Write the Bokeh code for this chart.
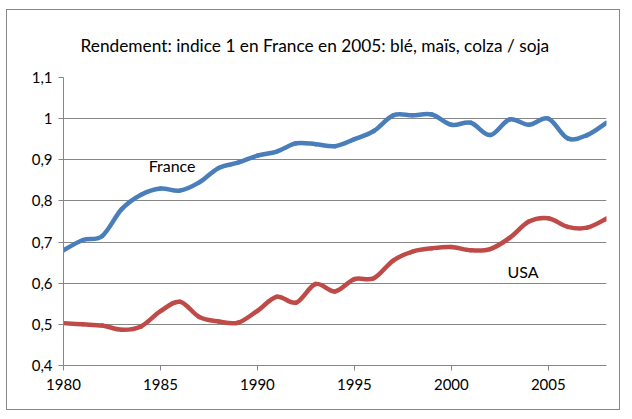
from bokeh.plotting import figure
from bokeh.embed import file_html
from bokeh.resources import INLINE
from bokeh.models import Label, FixedTicker, Range1d

years = list(range(1980, 2009))
france = [0.68, 0.705, 0.715, 0.78, 0.815, 0.83, 0.825, 0.845, 0.88, 0.893,
          0.91, 0.92, 0.94, 0.938, 0.933, 0.95, 0.97, 1.008, 1.008, 1.01,
          0.985, 0.99, 0.96, 0.998, 0.985, 1.0, 0.952, 0.96, 0.99]
usa = [0.503, 0.50, 0.497, 0.487, 0.495, 0.532, 0.555, 0.518, 0.507, 0.504,
       0.533, 0.567, 0.553, 0.598, 0.58, 0.61, 0.612, 0.655, 0.677, 0.685,
       0.688, 0.68, 0.683, 0.71, 0.75, 0.758, 0.737, 0.735, 0.757]
x_ticks = [1980, 1985, 1990, 1995, 2000, 2005]
y_ticks = [0.4, 0.5, 0.6, 0.7, 0.8, 0.9, 1.0, 1.1]
y_tick_labels = ["0,4", "0,5", "0,6", "0,7", "0,8", "0,9", "1", "1,1"]
title_text = "Rendement: indice 1 en France en 2005:  blé, maïs, colza / soja"
series_names = ["France", "USA"]

FONT = "Lato"
GRID = "#868686"

p = figure(width=614, height=401, output_backend="svg", toolbar_location=None,
           x_range=Range1d(1980, 2008), y_range=Range1d(0.4, 1.1),
           min_border_left=56, min_border_right=15, min_border_top=67,
           min_border_bottom=46,
           styles={"border": "1px solid #888888", "box-sizing": "border-box",
                   "margin": "9px 0px 0px 6px"})
p.outline_line_color = None
p.background_fill_color = "white"
p.border_fill_color = "white"

p.title.text = title_text
p.title.align = "left"
p.title.offset = 17
p.title.text_font = FONT
p.title.text_font_size = "17.3px"
p.title.text_font_style = "normal"
p.title.text_color = "#000000"
p.title.standoff = 44

p.xgrid.visible = False
p.ygrid.ticker = FixedTicker(ticks=y_ticks)
p.ygrid.grid_line_color = GRID
p.ygrid.grid_line_width = 1

p.xaxis.ticker = FixedTicker(ticks=x_ticks)
p.yaxis.ticker = FixedTicker(ticks=y_ticks)
p.yaxis.major_label_overrides = {t: l for t, l in zip(y_ticks, y_tick_labels)}
for ax in (p.xaxis[0], p.yaxis[0]):
    ax.axis_line_color = GRID
    ax.major_tick_line_color = GRID
    ax.minor_tick_line_color = None
    ax.major_tick_in = 0
    ax.major_tick_out = 5
    ax.major_label_text_font = FONT
    ax.major_label_text_font_size = "15px"
    ax.major_label_text_color = "#000000"
p.xaxis.major_label_standoff = 8
p.yaxis.major_label_standoff = 6


def smooth(xs, ys):
    n = len(xs)
    x0, y0, x1, y1, cx0, cy0, cx1, cy1 = [], [], [], [], [], [], [], []
    for i in range(n - 1):
        xp, yp = (xs[i - 1], ys[i - 1]) if i > 0 else (xs[i], ys[i])
        xn, yn = (xs[i + 2], ys[i + 2]) if i + 2 < n else (xs[i + 1], ys[i + 1])
        x0.append(xs[i]); y0.append(ys[i])
        x1.append(xs[i + 1]); y1.append(ys[i + 1])
        cx0.append(xs[i] + (xs[i + 1] - xp) / 6)
        cy0.append(ys[i] + (ys[i + 1] - yp) / 6)
        cx1.append(xs[i + 1] - (xn - xs[i]) / 6)
        cy1.append(ys[i + 1] - (yn - ys[i]) / 6)
    return dict(x0=x0, y0=y0, x1=x1, y1=y1, cx0=cx0, cy0=cy0, cx1=cx1, cy1=cy1)


for ys, color in ((france, "#4A7EBB"), (usa, "#BE4B48")):
    d = smooth(years, ys)
    p.bezier(x0=d["x0"], y0=d["y0"], x1=d["x1"], y1=d["y1"],
             cx0=d["cx0"], cy0=d["cy0"], cx1=d["cx1"], cy1=d["cy1"],
             line_color=color, line_width=4.5, line_cap="round")

p.add_layout(Label(x=1985.6, y=0.887, text=series_names[0], text_align="center",
                   text_baseline="middle", text_font=FONT,
                   text_font_size="16px", text_color="#000000"))
p.add_layout(Label(x=2003.7, y=0.629, text=series_names[1], text_align="center",
                   text_baseline="middle", text_font=FONT,
                   text_font_size="16px", text_color="#000000"))

open("out.html", "w").write(file_html(p, INLINE))
